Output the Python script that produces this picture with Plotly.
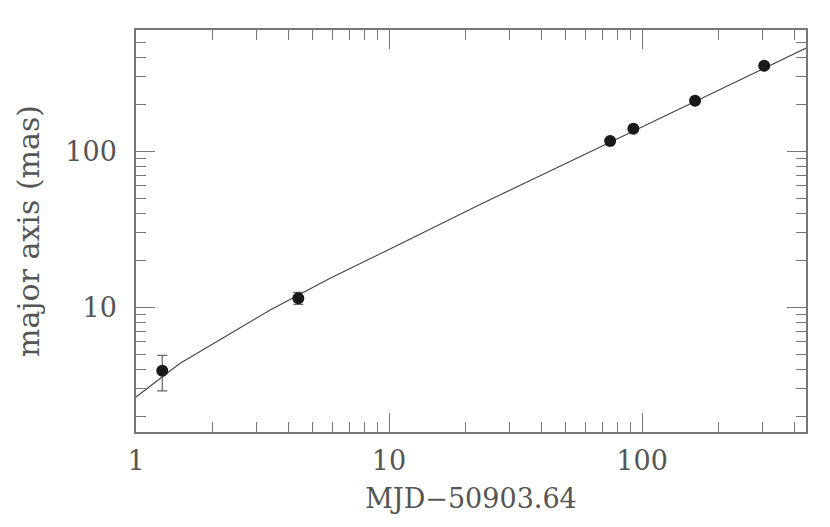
import plotly.graph_objects as go

# Observed points
days = [1.27, 4.38, 74.8, 92.4, 162, 304]
major_axis = [3.9, 11.4, 116, 139, 210, 352]
major_err = [1.0, 1.0, 0, 0, 0, 0]

# Model curve
model_days = [1.0, 1.49, 3.39, 5.85, 10, 22.9, 73.4, 445]
model_axis = [2.65, 4.35, 9.57, 15.3, 23.4, 45.5, 112, 457]

x_title = "MJD\u221250903.64"
y_title = "major axis (mas)"

font_family = "DejaVu Serif"
txt = "#555555"
axc = "#777777"

fig = go.Figure()
fig.add_trace(go.Scatter(
    x=model_days, y=model_axis, mode="lines",
    line=dict(color="#444444", width=1.1), showlegend=False, hoverinfo="skip"))
fig.add_trace(go.Scatter(
    x=days, y=major_axis, mode="markers",
    marker=dict(color="#1a1a1a", size=12),
    error_y=dict(type="data", array=major_err, visible=True,
                 color="#666666", thickness=1.2, width=5),
    showlegend=False))

axis_common = dict(
    type="log", showgrid=False, zeroline=False, automargin=False,
    showline=True, linecolor=axc, linewidth=1.5, mirror="allticks",
    ticks="inside", ticklen=19, tickwidth=1.3, tickcolor=axc,
    dtick=1,
    minor=dict(ticks="inside", ticklen=10, tickwidth=1.3, tickcolor=axc, dtick="D1", showgrid=False),
    tickfont=dict(family=font_family, size=27, color=txt),
)

fig.update_xaxes(range=[0, 2.648], title=dict(text=x_title, font=dict(family=font_family, size=27, color=txt), standoff=14),
                 ticklabelstandoff=4, **axis_common)
fig.update_yaxes(range=[0.199, 2.776], title=dict(text=y_title, font=dict(family=font_family, size=30, color=txt), standoff=17),
                 ticklabelstandoff=12, **axis_common)

fig.update_layout(
    width=830, height=527,
    margin=dict(l=128, r=32, t=22, b=103),
    plot_bgcolor="white", paper_bgcolor="white",
)

fig.write_html("out.html")
